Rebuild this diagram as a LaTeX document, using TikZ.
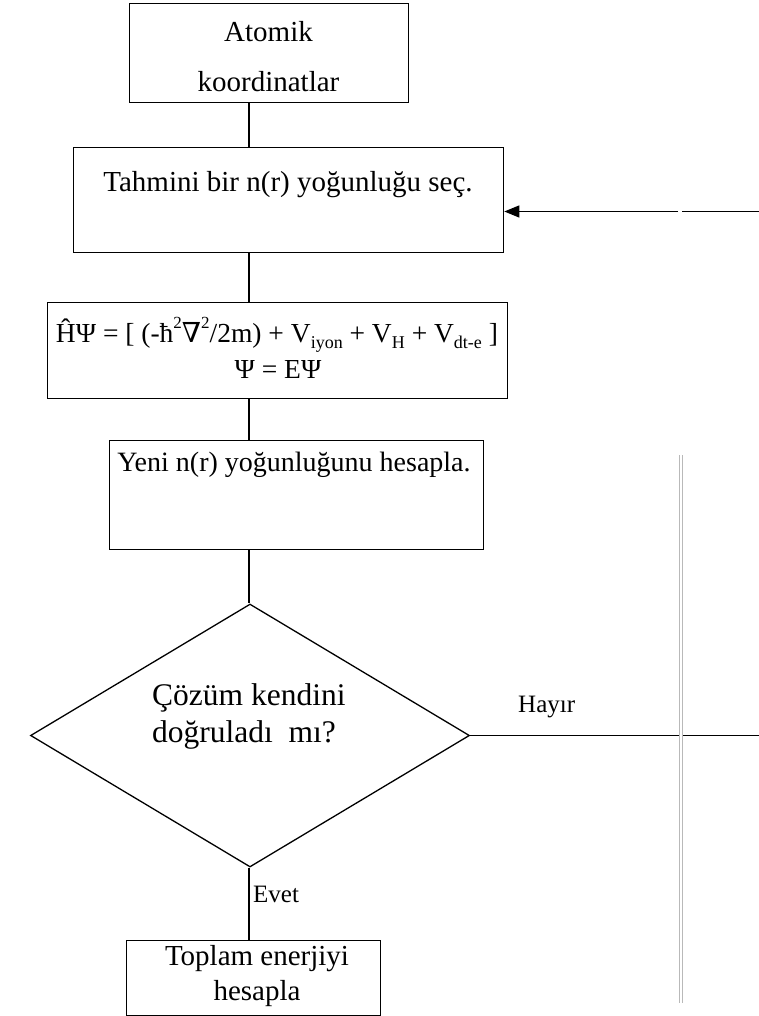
\documentclass[tikz,border=0pt]{standalone}
\usepackage{fontspec}
\setmainfont{Liberation Serif}
\newfontfamily\nablafont{DejaVu Serif}
\newcommand\mysup[1]{\raisebox{0.5em}{\fontsize{17}{17}\selectfont #1}}
\newcommand\mysub[1]{\raisebox{-0.22em}{\fontsize{18}{18}\selectfont #1}}
\usetikzlibrary{arrows.meta,shapes.geometric}
\begin{document}
\begin{tikzpicture}[x=1pt,y=-1pt,
  box/.style={draw=black, line width=1.3pt, inner sep=0pt, anchor=north west},
  txt/.style={font=\fontsize{29}{34}\selectfont, inner sep=0pt, anchor=base},
  dtxt/.style={font=\fontsize{31.5}{36}\selectfont, inner sep=0pt, anchor=base west},
  lbl/.style={font=\fontsize{25}{30}\selectfont, inner sep=0pt, anchor=base west},
  conn/.style={line width=1.3pt},
  grayline/.style={draw=gray!55, line width=1pt, double=white, double distance=2pt}]
\useasboundingbox (0,0) rectangle (759,1016);

% boxes
\node[box, minimum width=279pt, minimum height=99pt] (b1) at (129,3) {};
\node[box, minimum width=430pt, minimum height=105pt] (b2) at (73,147) {};
\node[box, minimum width=460pt, minimum height=96pt] (b3) at (47,302) {};
\node[box, minimum width=374pt, minimum height=109pt] (b4) at (109,440) {};
\node[draw=black, line width=1.3pt, shape=diamond, inner sep=0pt,
      minimum width=439pt, minimum height=263pt] (d) at (250,735.5) {};
\node[box, minimum width=254pt, minimum height=75pt] (b5) at (126,940) {};

% texts
\node[txt] (t1a) at (268.5,42) {Atomik};
\node[txt] (t1b) at (268.5,92) {koordinatlar};
\node[txt] (t2) at (288,192) {Tahmini bir n(r) yoğunluğu seç.};
\node[txt, font=\fontsize{27.5}{32}\selectfont] (t3a) at (277,342) {ĤΨ = [ (-ħ\mysup{2}{\nablafont ∇}\mysup{2}/2m) + V\mysub{iyon} + V\mysub{H} + V\mysub{dt-e} ]};
\node[txt, font=\fontsize{27.5}{32}\selectfont] (t3b) at (278,378) {Ψ = EΨ};
\node[txt, font=\fontsize{28}{34}\selectfont] (t4) at (294,471) {Yeni n(r) yoğunluğunu hesapla.};
\node[dtxt] (tda) at (152,705) {Çözüm kendini};
\node[dtxt] (tdb) at (152,742) {doğruladı\ \ mı?};
\node[txt] (t5a) at (257,965) {Toplam enerjiyi};
\node[txt] (t5b) at (257,1000) {hesapla};
\node[lbl] (hay) at (518,712) {Hayır};
\node[lbl] (evt) at (253,902) {Evet};

% helper coordinates
\coordinate (ax) at (249,0);
\coordinate (rt) at (759,211.5);
\coordinate (gr) at (682,211.5);
\coordinate (gl) at (678,211.5);
\coordinate (rh) at (759,735.5);
\coordinate (g1) at (680.5,455);
\coordinate (g2) at (680.5,1003);

% connectors
\draw[conn] (b1.south -| ax) -- (b2.north -| ax);
\draw[conn] (b2.south -| ax) -- (b3.north -| ax);
\draw[conn] (b3.south -| ax) -- (b4.north -| ax);
\draw[conn] (b4.south -| ax) -- (d.north -| ax);
\draw[conn] (d.south -| ax) -- (b5.north -| ax);
\draw[conn] (d.east) -- (rh);
\draw[conn] (rt) -- (gr);
\draw[conn, -{Triangle[length=15pt,width=12pt]}] (gl) -- (b2.east |- gl);

% gray double line
\draw[grayline] (g1) -- (g2);
\end{tikzpicture}
\end{document}
